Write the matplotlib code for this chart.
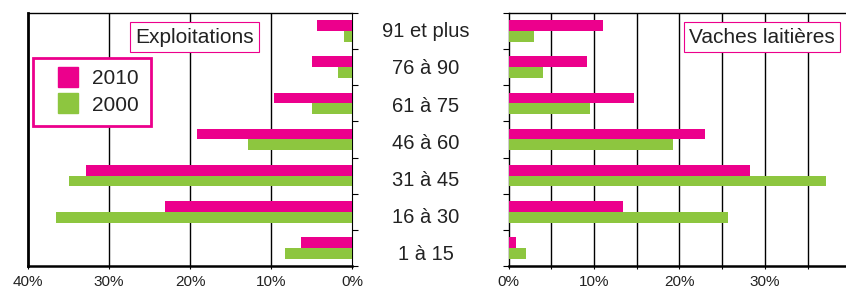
import numpy as np
import matplotlib
matplotlib.use("Agg")
import matplotlib.pyplot as plt
from matplotlib.lines import Line2D

plt.rcParams['font.family'] = ['Liberation Sans', 'DejaVu Sans']

categories = ["91 et plus", "76 à 90", "61 à 75", "46 à 60", "31 à 45", "16 à 30", "1 à 15"]
expl_2010 = [4.3, 4.9, 9.6, 19.1, 32.8, 23.1, 6.3]
expl_2000 = [1.0, 1.7, 4.9, 12.9, 34.9, 36.6, 8.3]
vaches_2010 = [11.1, 9.2, 14.7, 23.0, 28.2, 13.4, 0.9]
vaches_2000 = [3.0, 4.0, 9.5, 19.2, 37.1, 25.7, 2.0]

pink = '#EC008C'
green = '#8DC63F'
txt = '#222222'

fig = plt.figure(figsize=(8.46, 2.89), dpi=100)
ax1 = fig.add_axes([28/846, 23/289, 324/846, 253/289])
ax2 = fig.add_axes([508.7/846, 23/289, 337.3/846, 253/289])

y = np.arange(len(categories))
h = 0.3

for ax, v10, v00 in [(ax1, expl_2010, expl_2000), (ax2, vaches_2010, vaches_2000)]:
    ax.barh(y - h/2, v10, height=h, color=pink, zorder=3)
    ax.barh(y + h/2, v00, height=h, color=green, zorder=3)
    ax.set_ylim(len(categories) - 0.5, -0.5)
    ax.set_yticks(np.arange(len(categories) + 1) - 0.5)
    ax.set_yticklabels([])
    ax.tick_params(axis='y', length=4, width=0.8)
    ax.tick_params(axis='x', length=2.5, labelsize=11, pad=4, labelcolor=txt)
    for s in ax.spines.values():
        s.set_color('black')
    ax.spines['bottom'].set_linewidth(1.8)
    ax.spines['top'].set_linewidth(1.0)

# left panel (mirrored)
ax1.set_xlim(40, 0)
ax1.set_xticks([40, 30, 20, 10, 0])
ax1.set_xticklabels(['40%', '30%', '20%', '10%', '0%'])
for gx in [30, 20, 10]:
    ax1.axvline(gx, color='black', lw=1.0, zorder=1)
ax1.yaxis.tick_right()
ax1.spines['left'].set_linewidth(2.0)
ax1.spines['right'].set_linewidth(0.8)

# right panel
ax2.set_xlim(0, 39.5)
ax2.set_xticks(np.arange(0, 40, 5))
ax2.set_xticklabels([f'{v}%' if v % 10 == 0 else '' for v in range(0, 40, 5)])
for gx in range(5, 40, 5):
    ax2.axvline(gx, color='black', lw=1.0, zorder=1)
ax2.spines['right'].set_visible(False)
ax2.spines['left'].set_linewidth(1.0)

# category labels in the middle
for i, c in enumerate(categories):
    fig.text(426/846, 1 - (37.3 + 37.1 * i) / 289, c, ha='center', va='baseline',
             fontsize=14.5, color=txt)

ax1.text(0.33, 0.905, 'Exploitations', transform=ax1.transAxes, fontsize=15,
         ha='left', va='center', zorder=5, color=txt,
         bbox=dict(boxstyle='square,pad=0.25', fc='white', ec=pink, lw=0.8))
ax2.text(0.967, 0.905, 'Vaches laitières', transform=ax2.transAxes, fontsize=15,
         ha='right', va='center', zorder=5, color=txt,
         bbox=dict(boxstyle='square,pad=0.25', fc='white', ec=pink, lw=0.8))

handles = [Line2D([], [], ls='none', marker='s', markersize=15, color=pink, label='2010'),
           Line2D([], [], ls='none', marker='s', markersize=15, color=green, label='2000')]
leg = ax1.legend(handles=handles, loc='upper left', bbox_to_anchor=(5/324, 1 - 45/253),
                 fontsize=15, frameon=True, fancybox=False, handlelength=2.3,
                 handletextpad=0.0, borderpad=0.55, labelspacing=0.35,
                 borderaxespad=0, framealpha=1)
for t in leg.get_texts():
    t.set_color(txt)
leg.get_frame().set_edgecolor(pink)
leg.get_frame().set_linewidth(2.0)
leg.set_zorder(6)

fig.savefig('out.png', dpi=100)
